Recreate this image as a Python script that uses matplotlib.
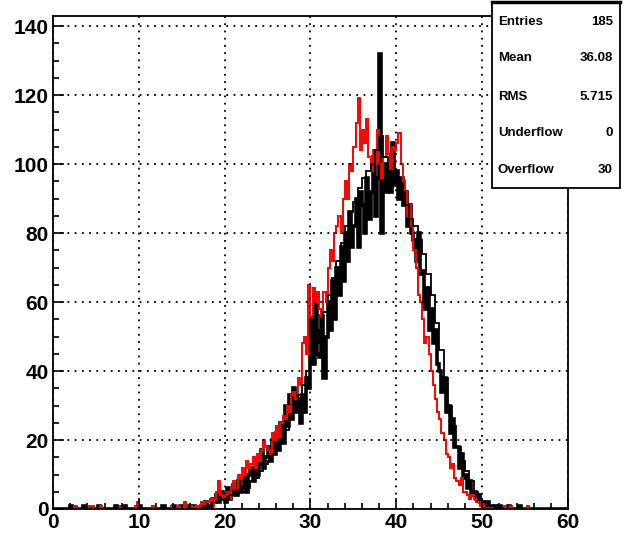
import matplotlib
matplotlib.use("Agg")
import matplotlib.pyplot as plt
from matplotlib.patches import Rectangle
from matplotlib.ticker import MultipleLocator
import numpy as np

plt.rcParams["font.family"] = ["Liberation Sans", "DejaVu Sans"]

BIN = 0.25
CORE_START = 17.0          # first bin of the hand-read core region

# red histogram, 0.25 bins from 17 to 52
red_core = [
    1, 2, 1, 2,   2, 3, 1, 3,   5, 8, 4, 3,   4, 5, 3, 6,
    8, 6, 10, 9,  12, 10, 14, 12,  13, 15, 12, 16,  14, 17, 20, 18,
    17, 16, 22, 20,  24, 21, 25, 27,  26, 30, 28, 33,  34, 32, 38, 36,
    48, 50, 45, 65,  56, 64, 60, 63,  58, 56, 63, 60,  70, 75, 72, 80,
    82, 85, 80, 90,  95, 90, 100, 98,  105, 112, 119, 104,  110, 106, 113, 102,
    98, 104, 100, 110,  100, 96, 102, 108,  103, 98, 105, 104,  106, 109, 100, 95,
    92, 85, 88, 82,  75, 70, 62, 60,  55, 48, 50, 45,  40, 36, 32, 28,
    26, 22, 20, 16,  15, 12, 13, 9,  8, 7, 9, 5,  5, 4, 3, 4,
    3, 2, 2, 1,  1, 2, 0, 1,  0, 1, 0, 0,
]

# thick black histogram, 0.25 bins from 17 to 52
thick_core = [
    0, 1, 0, 2,   1, 0, 3, 2,   4, 2, 5, 3,   2, 6, 3, 5,
    7, 4, 8, 5,   6, 9, 5, 10,  12, 8, 14, 10,  13, 17, 12, 15,
    18, 14, 20, 16,  22, 17, 25, 19,  30, 24, 33, 26,  35, 28, 32, 25,
    33, 28, 38, 35,  55, 42, 62, 45,  44, 56, 38, 50,  60, 52, 66, 55,
    70, 62, 76, 66,  80, 72, 86, 76,  82, 90, 76, 92,  88, 80, 96, 84,
    92, 102, 85, 96,  132, 80, 100, 92,  100, 92, 106, 94,  98, 90, 96, 88,
    92, 82, 88, 80,  78, 72, 80, 68,  69, 58, 64, 52,  58, 48, 52, 42,
    40, 34, 38, 28,  30, 22, 26, 18,  18, 12, 16, 9,  10, 6, 8, 4,
    5, 3, 4, 2,  2, 1, 2, 0,  1, 0, 1, 0,
]

# thin black histogram, 0.5 bins from 17 to 52
thin_core = [
    0, 1,  1, 2,  2, 3,  3, 4,  4, 5,  5, 6,  8, 9,  11, 13,  14, 16,  18, 20,
    23, 26,  29, 33,  36, 40,  44, 48,  52, 57,  62, 67,  72, 77,  82, 86,
    89, 93,  96, 98,  100, 104,  108, 102,  98, 96,  95, 92,  88, 84,
    82, 78,  74, 68,  62, 54,  46, 38,  30, 24,  18, 14,  11, 8,  5, 3,
    2, 1,  1, 0,
]

# isolated low entries outside the core region (bin centre, count)
red_tail_x = [2.6, 4.4, 4.7, 5.6, 7.9, 9.6, 9.9, 11.6, 13.9, 14.6, 15.4, 16.1, 16.6,
              52.6, 53.4, 55.4]
red_tail_n = [1, 1, 1, 1, 1, 1, 2, 1, 1, 1, 2, 1, 1, 1, 1, 1]
thick_tail_x = [2.1, 3.6, 5.4, 7.4, 8.4, 10.1, 12.9, 14.1, 14.9, 15.6, 16.4,
                52.1, 53.1, 54.4]
thick_tail_n = [1, 1, 1, 1, 1, 1, 1, 1, 1, 1, 1, 1, 1, 1]

stats_names = ["Entries", "Mean", "RMS", "Underflow", "Overflow"]
stats_vals = ["185", "36.08", "5.715", "0", "30"]


def full_hist(core, width, tail_x=(), tail_n=()):
    edges = np.arange(0, 60 + width / 2, width)
    counts = np.zeros(len(edges) - 1)
    i0 = int(round(CORE_START / width))
    counts[i0:i0 + len(core)] = core
    for x, n in zip(tail_x, tail_n):
        counts[int(x / width)] += n
    return edges, counts


fig = plt.figure(figsize=(6.29, 5.39), dpi=100)
ax = fig.add_axes([53 / 629, 30 / 539, 515 / 629, 493 / 539])

e, c = full_hist(thick_core, BIN, thick_tail_x, thick_tail_n)
ax.stairs(c, e, color="black", lw=2.6, baseline=0)
e, c = full_hist(red_core, BIN, red_tail_x, red_tail_n)
ax.stairs(c, e, color="#ff0000", lw=1.4, baseline=0)
e, c = full_hist(thin_core, 0.5)
ax.stairs(c, e, color="black", lw=1.3, baseline=0)

ax.set_xlim(0, 60)
ax.set_ylim(0, 142.9)
ax.xaxis.set_major_locator(MultipleLocator(10))
ax.xaxis.set_minor_locator(MultipleLocator(2))
ax.yaxis.set_major_locator(MultipleLocator(20))
ax.yaxis.set_minor_locator(MultipleLocator(5))
ax.grid(True, which="major", color="black", linestyle=(0, (1, 3)), lw=1.3)
ax.tick_params(which="both", direction="in", top=False, right=False, width=1.2)
ax.tick_params(which="major", length=8, labelsize=15, pad=3)
ax.tick_params(which="minor", length=4)
for lab in ax.get_xticklabels() + ax.get_yticklabels():
    lab.set_fontweight("bold")
for sp in ax.spines.values():
    sp.set_linewidth(1.3)

# stats box
fig.patches.append(Rectangle((492 / 629, 1 - 188 / 539), 128 / 629, 186 / 539,
                             transform=fig.transFigure, facecolor="white",
                             edgecolor="black", lw=1.3, zorder=5))
fig.add_artist(plt.Line2D([492 / 629, 620 / 629], [1 - 2 / 539] * 2,
                          transform=fig.transFigure, color="black", lw=2.5, zorder=6))
row_y = [22, 58, 97, 133, 170]
for name, val, y in zip(stats_names, stats_vals, row_y):
    fig.text(498 / 629, 1 - y / 539, name, ha="left", va="center",
             fontsize=9.5, fontweight="bold", zorder=7)
    fig.text(613 / 629, 1 - y / 539, val, ha="right", va="center",
             fontsize=9.5, fontweight="bold", zorder=7)

fig.savefig("out.png", dpi=100, facecolor="white")
